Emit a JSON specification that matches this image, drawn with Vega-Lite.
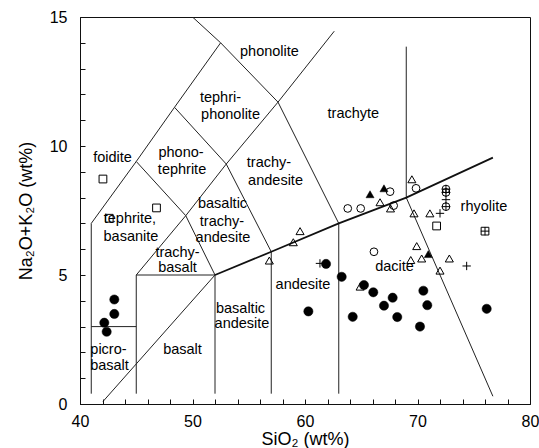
{
  "$schema": "https://vega.github.io/schema/vega-lite/v6.json",
  "width": 450,
  "height": 387,
  "autosize": "none",
  "padding": {"left": 80, "top": 17, "right": 9, "bottom": 44},
  "background": "white",
  "config": {
    "view": {"stroke": "#111", "strokeWidth": 1},
    "font": "Liberation Sans",
    "text": {"font": "Liberation Sans"}
  },
  "datasets": {
    "lines": [
      {"seg": "A", "o": 1, "si": 41, "alk": 0.4},
      {"seg": "A", "o": 2, "si": 41, "alk": 7},
      {"seg": "A", "o": 3, "si": 45, "alk": 9.4},
      {"seg": "A", "o": 4, "si": 48.4, "alk": 11.5},
      {"seg": "A", "o": 5, "si": 52.5, "alk": 14},
      {"seg": "B", "o": 1, "si": 50, "alk": 15},
      {"seg": "B", "o": 2, "si": 52.5, "alk": 14},
      {"seg": "B", "o": 3, "si": 57.6, "alk": 11.7},
      {"seg": "B", "o": 4, "si": 63, "alk": 7},
      {"seg": "C", "o": 1, "si": 45, "alk": 9.4},
      {"seg": "C", "o": 2, "si": 49.4, "alk": 7.3},
      {"seg": "C", "o": 3, "si": 52, "alk": 5},
      {"seg": "D", "o": 1, "si": 48.4, "alk": 11.5},
      {"seg": "D", "o": 2, "si": 53, "alk": 9.3},
      {"seg": "D", "o": 3, "si": 57, "alk": 5.9},
      {"seg": "E", "o": 1, "si": 45, "alk": 5},
      {"seg": "E", "o": 2, "si": 49.4, "alk": 7.3},
      {"seg": "E", "o": 3, "si": 53, "alk": 9.3},
      {"seg": "E", "o": 4, "si": 57.6, "alk": 11.7},
      {"seg": "E", "o": 5, "si": 62.6, "alk": 14.45},
      {"seg": "F", "o": 1, "si": 41, "alk": 3},
      {"seg": "F", "o": 2, "si": 45, "alk": 3},
      {"seg": "G", "o": 1, "si": 45, "alk": 0.4},
      {"seg": "G", "o": 2, "si": 45, "alk": 5},
      {"seg": "G", "o": 3, "si": 52, "alk": 5},
      {"seg": "H", "o": 1, "si": 52, "alk": 0.4},
      {"seg": "H", "o": 2, "si": 52, "alk": 5},
      {"seg": "I", "o": 1, "si": 57, "alk": 0.4},
      {"seg": "I", "o": 2, "si": 57, "alk": 5.9},
      {"seg": "J", "o": 1, "si": 63, "alk": 0.4},
      {"seg": "J", "o": 2, "si": 63, "alk": 7},
      {"seg": "K", "o": 1, "si": 42.05, "alk": 0.1},
      {"seg": "K", "o": 2, "si": 52, "alk": 5},
      {"seg": "M", "o": 1, "si": 69, "alk": 8},
      {"seg": "M", "o": 2, "si": 69, "alk": 13.85},
      {"seg": "N", "o": 1, "si": 69, "alk": 8},
      {"seg": "N", "o": 2, "si": 76.7, "alk": 0.3},
      {"seg": "L", "o": 1, "si": 52, "alk": 5},
      {"seg": "L", "o": 2, "si": 57, "alk": 5.9},
      {"seg": "L", "o": 3, "si": 63, "alk": 7},
      {"seg": "L", "o": 4, "si": 69, "alk": 8},
      {"seg": "L", "o": 5, "si": 76.7, "alk": 9.55}
    ],
    "labels": [
      {"si": 56.84, "alk": 13.64, "label": "phonolite"},
      {"si": 52.49, "alk": 11.86, "label": "tephri-"},
      {"si": 53.38, "alk": 11.2, "label": "phonolite"},
      {"si": 64.3, "alk": 11.24, "label": "trachyte"},
      {"si": 42.89, "alk": 9.53, "label": "foidite"},
      {"si": 48.98, "alk": 9.73, "label": "phono-"},
      {"si": 49.07, "alk": 9.07, "label": "tephrite"},
      {"si": 56.8, "alk": 9.34, "label": "trachy-"},
      {"si": 57.38, "alk": 8.64, "label": "andesite"},
      {"si": 52.67, "alk": 7.75, "label": "basaltic"},
      {"si": 52.62, "alk": 7.05, "label": "trachy-"},
      {"si": 52.71, "alk": 6.43, "label": "andesite"},
      {"si": 44.44, "alk": 7.17, "label": "tephrite,"},
      {"si": 44.53, "alk": 6.47, "label": "basanite"},
      {"si": 48.67, "alk": 5.85, "label": "trachy-"},
      {"si": 48.67, "alk": 5.27, "label": "basalt"},
      {"si": 54.27, "alk": 3.68, "label": "basaltic"},
      {"si": 54.4, "alk": 3.1, "label": "andesite"},
      {"si": 59.82, "alk": 4.61, "label": "andesite"},
      {"si": 67.96, "alk": 5.32, "label": "dacite"},
      {"si": 75.91, "alk": 7.65, "label": "rhyolite"},
      {"si": 42.53, "alk": 2.09, "label": "picro-"},
      {"si": 42.62, "alk": 1.47, "label": "basalt"},
      {"si": 49.11, "alk": 2.09, "label": "basalt"}
    ],
    "points": [
      {"si": 43.05, "alk": 4.05, "sym": "fc"},
      {"si": 43.05, "alk": 3.49, "sym": "fc"},
      {"si": 42.16, "alk": 3.15, "sym": "fc"},
      {"si": 42.37, "alk": 2.8, "sym": "fc"},
      {"si": 61.87, "alk": 5.43, "sym": "fc"},
      {"si": 63.26, "alk": 4.93, "sym": "fc"},
      {"si": 65.24, "alk": 4.61, "sym": "fc"},
      {"si": 66.07, "alk": 4.33, "sym": "fc"},
      {"si": 67.79, "alk": 4.12, "sym": "fc"},
      {"si": 67.02, "alk": 3.81, "sym": "fc"},
      {"si": 70.52, "alk": 4.39, "sym": "fc"},
      {"si": 70.87, "alk": 3.83, "sym": "fc"},
      {"si": 60.3, "alk": 3.59, "sym": "fc"},
      {"si": 64.24, "alk": 3.38, "sym": "fc"},
      {"si": 68.2, "alk": 3.37, "sym": "fc"},
      {"si": 70.22, "alk": 3.0, "sym": "fc"},
      {"si": 76.15, "alk": 3.69, "sym": "fc"},
      {"si": 63.8, "alk": 7.58, "sym": "oc"},
      {"si": 64.95, "alk": 7.58, "sym": "oc"},
      {"si": 67.56, "alk": 8.23, "sym": "oc"},
      {"si": 67.88, "alk": 7.69, "sym": "oc"},
      {"si": 69.87, "alk": 8.36, "sym": "oc"},
      {"si": 66.13, "alk": 5.9, "sym": "oc"},
      {"si": 65.78, "alk": 8.13, "sym": "ft"},
      {"si": 67.02, "alk": 8.36, "sym": "ft"},
      {"si": 70.96, "alk": 5.81, "sym": "ft"},
      {"si": 59.56, "alk": 6.7, "sym": "ot"},
      {"si": 58.96, "alk": 6.27, "sym": "ot"},
      {"si": 56.83, "alk": 5.56, "sym": "ot"},
      {"si": 66.67, "alk": 7.82, "sym": "ot"},
      {"si": 67.6, "alk": 7.58, "sym": "ot"},
      {"si": 69.5, "alk": 8.71, "sym": "ot"},
      {"si": 69.69, "alk": 7.39, "sym": "ot"},
      {"si": 71.1, "alk": 7.39, "sym": "ot"},
      {"si": 69.93, "alk": 6.12, "sym": "ot"},
      {"si": 69.4, "alk": 5.58, "sym": "ot"},
      {"si": 70.37, "alk": 5.64, "sym": "ot"},
      {"si": 72.83, "alk": 5.64, "sym": "ot"},
      {"si": 72.0, "alk": 5.17, "sym": "ot"},
      {"si": 64.9, "alk": 4.55, "sym": "ot"},
      {"si": 42.04, "alk": 8.72, "sym": "os"},
      {"si": 46.8, "alk": 7.6, "sym": "os"},
      {"si": 42.6, "alk": 7.2, "sym": "os"},
      {"si": 71.7, "alk": 6.9, "sym": "os"},
      {"si": 61.33, "alk": 5.45, "sym": "pl"},
      {"si": 72.0, "alk": 7.39, "sym": "pl"},
      {"si": 74.37, "alk": 5.35, "sym": "pl"},
      {"si": 72.53, "alk": 7.92, "sym": "pl"},
      {"si": 72.53, "alk": 8.33, "sym": "cp"},
      {"si": 72.53, "alk": 8.2, "sym": "cp"},
      {"si": 72.53, "alk": 7.65, "sym": "cp"},
      {"si": 76.0, "alk": 6.7, "sym": "sp"}
    ]
  },
  "encoding": {
    "x": {
      "field": "si",
      "type": "quantitative",
      "scale": {"domain": [40, 80], "nice": false, "zero": false},
      "axis": {
        "title": "SiO₂ (wt%)",
        "values": [40, 42, 44, 46, 48, 50, 52, 54, 56, 58, 60, 62, 64, 66, 68, 70, 72, 74, 76, 78, 80],
        "labelExpr": "datum.value % 10 === 0 ? datum.label : ''",
        "labelOverlap": false,
        "labelFlush": false,
        "grid": false,
        "tickSize": -5,
        "tickColor": "#111",
        "domainColor": "#111",
        "labelFont": "Liberation Sans",
        "labelFontSize": 16,
        "labelColor": "black",
        "labelPadding": 14,
        "titleFont": "Liberation Sans",
        "titleFontSize": 18,
        "titleFontWeight": "normal",
        "titleColor": "black",
        "titlePadding": 1
      }
    },
    "y": {
      "field": "alk",
      "type": "quantitative",
      "scale": {"domain": [0, 15], "nice": false, "zero": false},
      "axis": {
        "title": "Na₂O+K₂O (wt%)",
        "values": [0, 1, 2, 3, 4, 5, 6, 7, 8, 9, 10, 11, 12, 13, 14, 15],
        "labelExpr": "datum.value % 5 === 0 ? datum.label : ''",
        "labelOverlap": false,
        "labelFlush": false,
        "grid": false,
        "tickSize": -5,
        "tickColor": "#111",
        "domainColor": "#111",
        "labelFont": "Liberation Sans",
        "labelFontSize": 16,
        "labelColor": "black",
        "labelPadding": 18,
        "titleFont": "Liberation Sans",
        "titleFontSize": 18,
        "titleFontWeight": "normal",
        "titleColor": "black",
        "titlePadding": 14
      }
    }
  },
  "layer": [
    {
      "data": {"name": "lines"},
      "transform": [{"filter": "datum.seg !== 'L'"}],
      "mark": {"type": "line", "stroke": "#222", "strokeWidth": 1, "clip": true},
      "encoding": {"detail": {"field": "seg"}, "order": {"field": "o"}}
    },
    {
      "data": {"name": "lines"},
      "transform": [{"filter": "datum.seg === 'L'"}],
      "mark": {"type": "line", "stroke": "#111", "strokeWidth": 1.8},
      "encoding": {"detail": {"field": "seg"}, "order": {"field": "o"}}
    },
    {
      "data": {"name": "points"},
      "transform": [{"filter": "datum.sym === 'fc'"}],
      "mark": {"type": "point", "shape": "circle", "filled": true, "fill": "black", "stroke": "black", "strokeWidth": 0.5, "size": 85, "opacity": 1}
    },
    {
      "data": {"name": "points"},
      "transform": [{"filter": "datum.sym === 'oc' || datum.sym === 'cp'"}],
      "mark": {"type": "point", "shape": "circle", "filled": false, "stroke": "black", "strokeWidth": 1, "size": 60, "opacity": 1}
    },
    {
      "data": {"name": "points"},
      "transform": [{"filter": "datum.sym === 'ft'"}],
      "mark": {"type": "point", "shape": "triangle-up", "filled": true, "fill": "black", "stroke": "black", "strokeWidth": 0.5, "size": 65, "opacity": 1}
    },
    {
      "data": {"name": "points"},
      "transform": [{"filter": "datum.sym === 'ot'"}],
      "mark": {"type": "point", "shape": "triangle-up", "filled": false, "stroke": "black", "strokeWidth": 1, "size": 65, "opacity": 1}
    },
    {
      "data": {"name": "points"},
      "transform": [{"filter": "datum.sym === 'os' || datum.sym === 'sp'"}],
      "mark": {"type": "point", "shape": "square", "filled": false, "stroke": "black", "strokeWidth": 1, "size": 60, "opacity": 1}
    },
    {
      "data": {"name": "points"},
      "transform": [{"filter": "datum.sym === 'pl' || datum.sym === 'cp' || datum.sym === 'sp'"}],
      "mark": {"type": "point", "shape": "M-1,0L1,0M0,-1L0,1", "filled": false, "stroke": "black", "strokeWidth": 1, "size": 70, "opacity": 1}
    },
    {
      "data": {"name": "labels"},
      "mark": {"type": "text", "font": "Liberation Sans", "fontSize": 14.5, "align": "center", "baseline": "middle", "color": "black"},
      "encoding": {"text": {"field": "label"}}
    }
  ]
}
